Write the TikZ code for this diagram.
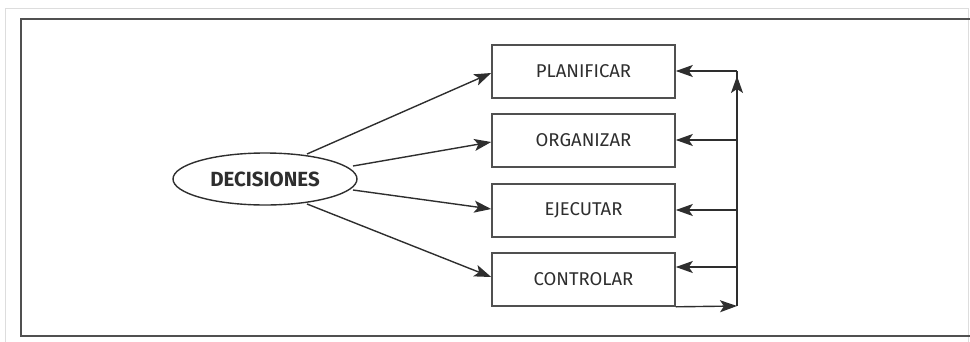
\documentclass[tikz,border=0pt]{standalone}
\usepackage{fontspec}
\setmainfont{Fira Sans}
\usetikzlibrary{arrows.meta,shapes.geometric}
\definecolor{ink}{HTML}{2E2E2E}
\definecolor{frame}{HTML}{505050}
\definecolor{faint}{HTML}{DDDDDD}
\tikzset{
  box/.style={draw=frame, line width=1.6pt, minimum width=183pt, minimum height=53pt, inner sep=0pt, text=ink, font=\fontsize{18.5}{20}\selectfont},
  oval/.style={draw=ink, line width=1.4pt, ellipse, minimum width=184pt, minimum height=52pt, inner sep=0pt, text=ink, font=\fontsize{20.5}{22}\selectfont\bfseries},
  conn/.style={draw=ink, line width=1.4pt},
  arr/.style={conn, -{Stealth[length=17pt, width=12pt, inset=4pt]}},
}
\begin{document}
\begin{tikzpicture}[x=1pt, y=-1pt]
\useasboundingbox (0,0) rectangle (970,341);
% outer faint frame
\draw[faint, line width=1pt] (5,345) -- (5,8) -- (968,8) -- (968,345);
% dark frame
\draw[frame, line width=1.8pt] (980,19) -- (21,19) -- (21,336) -- (980,336);

\node[oval] (dec) at (265,179) {DECISIONES};
\node[box] (p) at (583.5,71.5) {PLANIFICAR};
\node[box] (o) at (583.5,140.5) {ORGANIZAR};
\node[box] (e) at (583.5,210.5) {EJECUTAR};
\node[box] (c) at (583.5,279.5) {CONTROLAR};

\coordinate (d1) at (307,154);
\coordinate (d2) at (353,166);
\coordinate (d3) at (353,190);
\coordinate (d4) at (307,204);
\draw[arr] (d1) -- (p.west |- 0,73);
\draw[arr] (d2) -- (o.west |- 0,142);
\draw[arr] (d3) -- (e.west |- 0,209);
\draw[arr] (d4) -- (c.west |- 0,277);

% feedback loop
\coordinate (vt) at (737,71);
\coordinate (vo) at (737,140);
\coordinate (ve) at (737,210);
\coordinate (vc) at (737,267);
\coordinate (vb) at (737,306);
\draw[conn] (vb) -- (vt);
\draw[arr] (737,120) -- (737,76);
\draw[arr] (vt) -- (p.east |- vt);
\draw[arr] (vo) -- (o.east |- vo);
\draw[arr] (ve) -- (e.east |- ve);
\draw[arr] (vc) -- (c.east |- vc);
\draw[arr] (c.south east) -- (vb);
\end{tikzpicture}
\end{document}
